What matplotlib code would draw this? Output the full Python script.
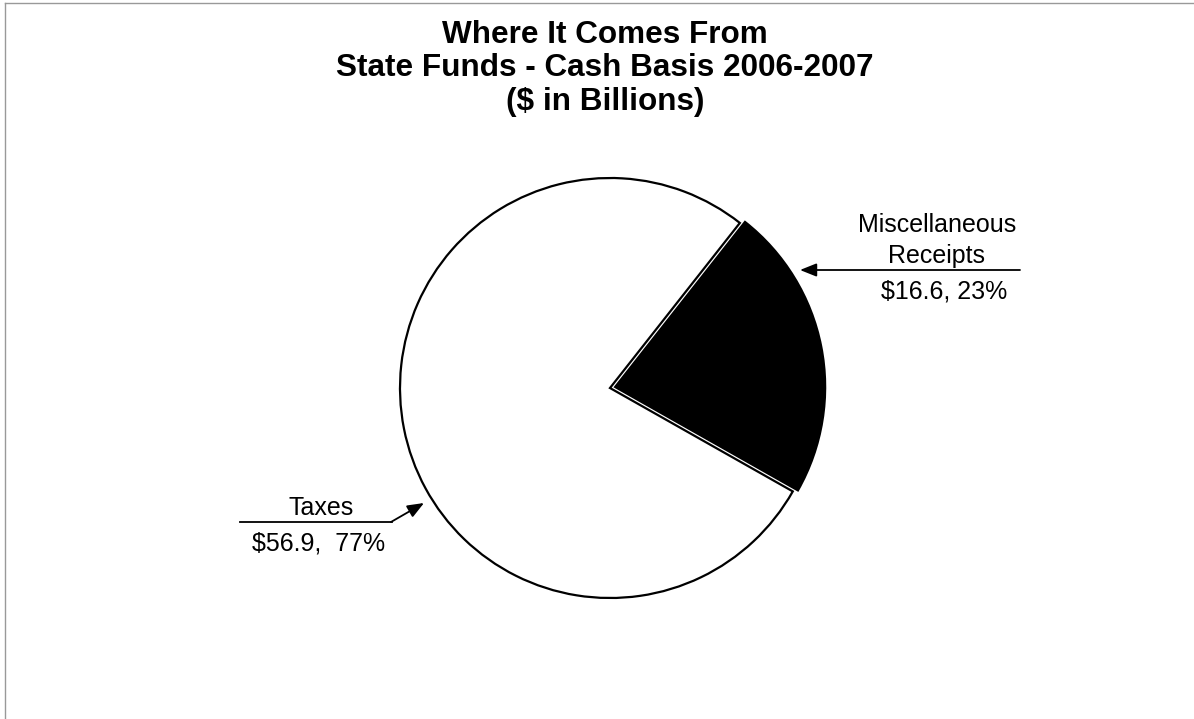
import matplotlib
matplotlib.use("Agg")
import matplotlib.pyplot as plt
from matplotlib.lines import Line2D

plt.rcParams['font.family'] = ['Liberation Sans', 'DejaVu Sans']

# Revenue sources, $ in billions
categories = ["Taxes", "Miscellaneous", "Receipts"]
values = [56.9, 16.6]
value_labels = ["$56.9,  77%", "$16.6, 23%"]

title_lines = ["Where It Comes From",
               "State Funds - Cash Basis 2006-2007",
               "($ in Billions)"]

W, H = 1194, 719
fig = plt.figure(figsize=(W / 100, H / 100), dpi=100)
ax = fig.add_axes([0, 0, 1, 1])

# Pie drawn in pixel-like coordinates (y measured downward from the top,
# so angles run clockwise on screen)
cx, cy, r = 610, 388, 210
ax.pie(values, startangle=29.5, counterclock=True, radius=r, center=(cx, cy),
       explode=[0, 0.025 * r], colors=["white", "black"],
       wedgeprops=dict(edgecolor="black", linewidth=1.6),
       frame=True)
ax.set_xlim(0, W)
ax.set_ylim(H, 0)
ax.set_aspect('equal')
ax.axis('off')

# Title
for i, line in enumerate(title_lines):
    ax.text(605, 43 + i * 33.5, line, ha='center', va='baseline',
            fontsize=22.7, fontweight='bold', color='black')

arrow = dict(arrowstyle="-|>,head_length=1.0,head_width=0.4",
             color='black', lw=1.3, shrinkA=0, shrinkB=0)

# Taxes label with leader
ax.text(321, 515, categories[0], ha='center', va='baseline', fontsize=18)
ax.text(319, 550, value_labels[0], ha='center', va='baseline', fontsize=18)
ax.plot([240, 392], [522, 522], color='black', lw=1.3)
ax.annotate("", xy=(424, 503), xytext=(391, 522), arrowprops=arrow)

# Miscellaneous label with leader
ax.text(937, 232, categories[1], ha='center', va='baseline', fontsize=18)
ax.text(937, 263, categories[2], ha='center', va='baseline', fontsize=18)
ax.text(944, 298, value_labels[1], ha='center', va='baseline', fontsize=18)
ax.annotate("", xy=(800, 270), xytext=(1020, 270), arrowprops=arrow)

# Thin frame along top and left
fig.add_artist(Line2D([5 / W, 1], [1 - 3 / H, 1 - 3 / H], color='#999999', lw=1))
fig.add_artist(Line2D([5 / W, 5 / W], [0, 1 - 3 / H], color='#999999', lw=1))

fig.savefig("out.png", dpi=100, facecolor='white')
